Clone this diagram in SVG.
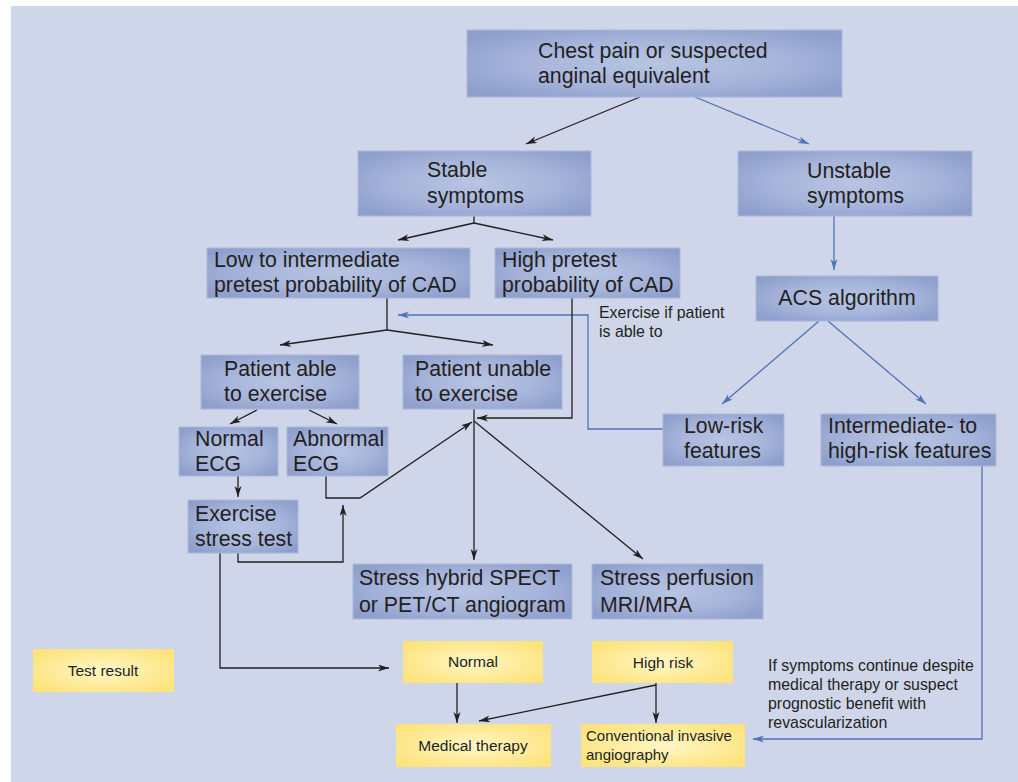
<svg xmlns="http://www.w3.org/2000/svg" width="1018" height="782" viewBox="0 0 1018 782">
<style>
.bg{fill:#CFD6E9}
.nb{fill:url(#gb);stroke:#A9B7DC;stroke-width:1}
.ny{fill:url(#gy)}
.t{font-family:"Liberation Sans",Arial,sans-serif;font-size:21.3px;fill:#231F20}
.s{font-family:"Liberation Sans",Arial,sans-serif;font-size:15.5px;fill:#231F20}
.l{font-size:15.9px}
.m{text-anchor:middle}
.k{fill:none;stroke:#231F20;stroke-width:1.3}
.u{fill:none;stroke:#4F73B6;stroke-width:1.3}
.ka{marker-end:url(#ak)}
.ua{marker-end:url(#au)}
</style>
<defs>
<radialGradient id="gb" cx="0.5" cy="0.5" r="0.62">
<stop offset="0" stop-color="#B7C4E2"/>
<stop offset="0.55" stop-color="#A7B5DB"/>
<stop offset="1" stop-color="#8E9FCC"/>
</radialGradient>
<radialGradient id="gy" cx="0.5" cy="0.5" r="0.62">
<stop offset="0" stop-color="#FFF6C6"/>
<stop offset="1" stop-color="#FDE37A"/>
</radialGradient>
<marker id="ak" markerUnits="userSpaceOnUse" markerWidth="12" markerHeight="8" refX="11" refY="3.5" orient="auto">
<path d="M0,0 L11,3.5 L0,7 L3,3.5 Z" fill="#231F20"/>
</marker>
<marker id="au" markerUnits="userSpaceOnUse" markerWidth="12" markerHeight="8" refX="11" refY="3.5" orient="auto">
<path d="M0,0 L11,3.5 L0,7 L3,3.5 Z" fill="#4F73B6"/>
</marker>
</defs>
<rect class="bg" x="11" y="6" width="1007" height="776"/>

<g id="connectors">
<path class="k ka" d="M640,97 L526,144"/>
<path class="u ua" d="M695,97 L809,144"/>
<path class="k" d="M474,216 V223"/>
<path class="k ka" d="M474,223 L398,240"/>
<path class="k ka" d="M474,223 L553,240"/>
<path class="u ua" d="M834,216 V270"/>
<path class="u ua" d="M819,321 L722,404"/>
<path class="u ua" d="M828,321 L926,404"/>
<path class="k" d="M387,297 V330"/>
<path class="k ka" d="M387,330 L280,345"/>
<path class="k ka" d="M387,330 L493,345"/>
<path class="u ua" d="M663,429 H588 V315 H398"/>
<path class="k ka" d="M572,297 V418 H477"/>
<path class="k ka" d="M474,409 V560"/>
<path class="k ka" d="M474,421 L643,559"/>
<path class="k ka" d="M257,410 L230,424"/>
<path class="k ka" d="M309,410 L337,424"/>
<path class="k ka" d="M238,476 V497"/>
<path class="k ka" d="M326,476 V498 H360 L472,422"/>
<path class="k ka" d="M238,553 V562 H343 V505"/>
<path class="k ka" d="M220,553 V668 H389"/>
<path class="k ka" d="M457,683 V723"/>
<path class="k ka" d="M656,683 V723"/>
<path class="k ka" d="M656,685 L479,721"/>
<path class="u ua" d="M982,466 V739 H753"/>
</g>

<g id="chest">
<rect class="nb" x="467" y="30" width="375" height="67"/>
<text class="t" x="538" y="58">Chest pain or suspected</text>
<text class="t" x="538" y="83">anginal equivalent</text>
</g>
<g id="stable">
<rect class="nb" x="358" y="151" width="233" height="65"/>
<text class="t" x="427" y="177">Stable</text>
<text class="t" x="427" y="203">symptoms</text>
</g>
<g id="unstable">
<rect class="nb" x="738" y="151" width="234" height="65"/>
<text class="t" x="807" y="178">Unstable</text>
<text class="t" x="807" y="203">symptoms</text>
</g>
<g id="lowint">
<rect class="nb" x="207" y="248" width="263" height="50"/>
<text class="t" x="214" y="267">Low to intermediate</text>
<text class="t" x="214" y="292">pretest probability of CAD</text>
</g>
<g id="highpre">
<rect class="nb" x="495" y="248" width="185" height="50"/>
<text class="t" x="502" y="267">High pretest</text>
<text class="t" x="502" y="292">probability of CAD</text>
</g>
<g id="acs">
<rect class="nb" x="756" y="276" width="182" height="45"/>
<text class="t m" x="847" y="305">ACS algorithm</text>
</g>
<g id="able">
<rect class="nb" x="201" y="355" width="158" height="54"/>
<text class="t" x="224" y="376">Patient able</text>
<text class="t" x="224" y="401">to exercise</text>
</g>
<g id="unable">
<rect class="nb" x="403" y="355" width="159" height="54"/>
<text class="t" x="415" y="376">Patient unable</text>
<text class="t" x="415" y="401">to exercise</text>
</g>
<g id="normalecg">
<rect class="nb" x="179" y="427" width="99" height="49"/>
<text class="t" x="195" y="446">Normal</text>
<text class="t" x="195" y="471">ECG</text>
</g>
<g id="abnormalecg">
<rect class="nb" x="287" y="427" width="101" height="49"/>
<text class="t" x="293" y="446">Abnormal</text>
<text class="t" x="293" y="471">ECG</text>
</g>
<g id="exstress">
<rect class="nb" x="188" y="500" width="110" height="53"/>
<text class="t" x="195" y="521">Exercise</text>
<text class="t" x="195" y="546">stress test</text>
</g>
<g id="lowrisk">
<rect class="nb" x="663" y="414" width="121" height="52"/>
<text class="t" x="684" y="433">Low-risk</text>
<text class="t" x="684" y="458">features</text>
</g>
<g id="intrisk">
<rect class="nb" x="821" y="414" width="175" height="52"/>
<text class="t" x="828" y="433">Intermediate- to</text>
<text class="t" x="828" y="458">high-risk features</text>
</g>
<g id="spect">
<rect class="nb" x="353" y="564" width="219" height="55"/>
<text class="t" x="359" y="585">Stress hybrid SPECT</text>
<text class="t" x="359" y="612">or PET/CT angiogram</text>
</g>
<g id="mri">
<rect class="nb" x="592" y="564" width="171" height="55"/>
<text class="t" x="600" y="585">Stress perfusion</text>
<text class="t" x="600" y="612">MRI/MRA</text>
</g>
<g id="testresult">
<rect class="ny" x="33" y="649" width="141" height="43"/>
<text class="s m" x="103" y="676">Test result</text>
</g>
<g id="normal">
<rect class="ny" x="403" y="641" width="140" height="42"/>
<text class="s m" x="473" y="667">Normal</text>
</g>
<g id="highrisk">
<rect class="ny" x="592" y="641" width="141" height="42"/>
<text class="s m" x="663" y="668">High risk</text>
</g>
<g id="medical">
<rect class="ny" x="396" y="724" width="155" height="43"/>
<text class="s m" x="473" y="751">Medical therapy</text>
</g>
<g id="invasive">
<rect class="ny" x="581" y="724" width="164" height="43"/>
<text class="s" x="586" y="741" style="font-size:15px">Conventional invasive</text>
<text class="s" x="586" y="760" style="font-size:15px">angiography</text>
</g>
<g id="labels">
<text class="s l" x="599" y="318">Exercise if patient</text>
<text class="s l" x="599" y="337">is able to</text>
<text class="s l" x="768" y="671">If symptoms continue despite</text>
<text class="s l" x="768" y="690">medical therapy or suspect</text>
<text class="s l" x="768" y="709">prognostic benefit with</text>
<text class="s l" x="768" y="728">revascularization</text>
</g>
</svg>
